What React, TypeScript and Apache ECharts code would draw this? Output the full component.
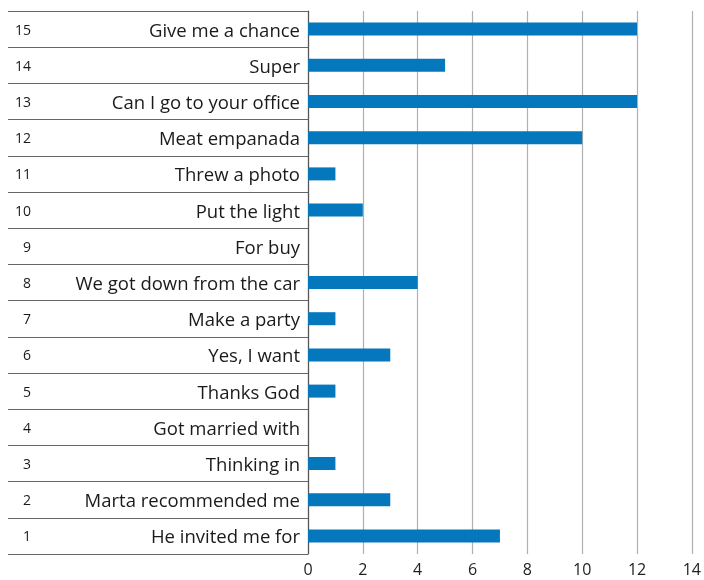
import React, { useEffect, useRef } from "react";
import * as echarts from "echarts";

const rowNumbers = ["1", "2", "3", "4", "5", "6", "7", "8", "9", "10", "11", "12", "13", "14", "15"];
const phrases = [
  "He invited me for",
  "Marta recommended me",
  "Thinking in",
  "Got married with",
  "Thanks God",
  "Yes, I want",
  "Make a party",
  "We got down from the car",
  "For buy",
  "Put the light",
  "Threw a photo",
  "Meat empanada",
  "Can I go to your office",
  "Super",
  "Give me a chance",
];
const counts = [7, 3, 1, 0, 1, 3, 1, 4, 0, 2, 1, 10, 12, 5, 12];
const xTicks = { min: 0, max: 14, interval: 2 };

const FONT = "'Open Sans', 'Noto Sans', sans-serif";

export default function App() {
  const ref = useRef<HTMLDivElement>(null);
  useEffect(() => {
    if (!ref.current) return;
    const chart = echarts.init(ref.current, undefined, { renderer: "svg" });
    chart.setOption({
      animation: false,
      grid: [
        { left: 308, right: 8.5, top: 11, bottom: 26, containLabel: false },
        { left: 8, width: 300, top: 11, bottom: 26, containLabel: false },
      ],
      xAxis: [
        {
          type: "value",
          gridIndex: 0,
          min: xTicks.min,
          max: xTicks.max,
          interval: xTicks.interval,
          axisLine: { show: false },
          axisTick: { show: false },
          axisLabel: { fontFamily: FONT, fontSize: 16, color: "#222", margin: 7 },
          splitLine: { show: true, lineStyle: { color: "#b0b0b0", width: 1.2 } },
        },
        { type: "value", gridIndex: 1, show: false, min: 0, max: 1 },
      ],
      yAxis: [
        {
          type: "category",
          gridIndex: 0,
          data: phrases,
          axisLine: { show: true, lineStyle: { color: "#555", width: 1.2 } },
          axisTick: { show: false },
          axisLabel: { fontFamily: FONT, fontSize: 18.5, color: "#1a1a1a", margin: 8 },
          splitLine: { show: false },
        },
        {
          type: "category",
          gridIndex: 1,
          data: rowNumbers,
          axisLine: { show: false },
          axisTick: { show: false },
          axisLabel: {
            inside: true,
            align: "right",
            margin: 23,
            fontFamily: FONT,
            fontSize: 14,
            color: "#1a1a1a",
          },
          splitLine: { show: true, lineStyle: { color: "#666", width: 1.2 } },
        },
      ],
      series: [
        {
          type: "bar",
          xAxisIndex: 0,
          yAxisIndex: 0,
          data: counts,
          barWidth: 13,
          itemStyle: { color: "#0577BC" },
        },
      ],
    });
    return () => chart.dispose();
  }, []);
  return (
    <div
      ref={ref}
      style={{ position: "fixed", left: 0, top: 0, width: 704, height: 580 }}
    />
  );
}
